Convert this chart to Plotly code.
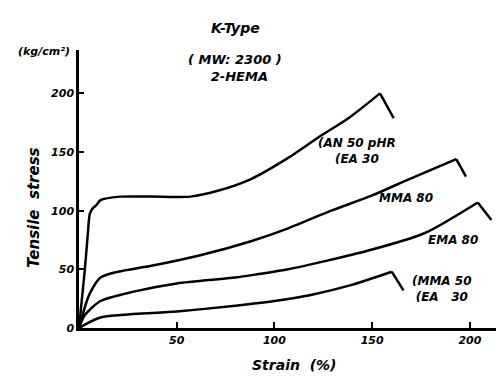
import plotly.graph_objects as go

# Strain (%) / Tensile stress (kg/cm2); last point = break after failure
an_ea_x = [0, 1.5, 3, 4.5, 5.5, 7, 9, 11, 21, 37, 57, 71, 88, 107, 122, 138, 154, 161]
an_ea_y = [0, 25, 50, 80, 97, 102, 105, 109, 112, 112, 112, 117, 127, 145, 162, 179, 200, 179]

mma80_x = [0, 2, 4, 6, 11, 20, 37, 62, 88, 107, 129, 150, 169, 193, 198]
mma80_y = [0, 12, 23, 31, 43, 48, 53, 62, 74, 85, 100, 113, 127, 144, 129]

ema80_x = [0, 3, 11, 28, 50, 80, 92, 107, 148, 177, 204, 211]
ema80_y = [0, 11, 23, 31, 38, 43, 46, 50, 66, 81, 107, 92]

mma_ea_x = [0, 11, 50, 80, 100, 118, 140, 160, 166]
mma_ea_y = [0, 9, 14, 19, 23, 28, 37, 48, 32]

x_ticks = [50, 100, 150, 200]
y_ticks = [0, 50, 100, 150, 200]

FONT = "DejaVu Sans"
fig = go.Figure()
for xs, ys in [(an_ea_x, an_ea_y), (mma80_x, mma80_y), (ema80_x, ema80_y), (mma_ea_x, mma_ea_y)]:
    fig.add_trace(go.Scatter(x=xs[:-1], y=ys[:-1], mode="lines",
                             line=dict(color="black", width=2.5, shape="spline", smoothing=0.7),
                             showlegend=False, hoverinfo="skip"))
    fig.add_trace(go.Scatter(x=xs[-2:], y=ys[-2:], mode="lines",
                             line=dict(color="black", width=2.5),
                             showlegend=False, hoverinfo="skip"))

tickfont = dict(family=FONT, size=11, color="black", style="italic", weight="bold")
fig.update_layout(
    width=504, height=376,
    margin=dict(l=71, r=3, t=42, b=56),
    paper_bgcolor="white", plot_bgcolor="white",
    xaxis=dict(range=[0, 220], tickvals=x_ticks, ticks="inside", ticklen=6,
               tickwidth=1.5, tickcolor="black", showgrid=False, zeroline=False,
               showline=True, linecolor="black", linewidth=2.5,
               tickfont=tickfont),
    yaxis=dict(range=[0, 237], tickvals=y_ticks, ticks="inside", ticklen=5,
               tickwidth=1.5, tickcolor="black", showgrid=False, zeroline=False,
               showline=True, linecolor="black", linewidth=2.5,
               tickfont=tickfont),
)

L, R, T, B = 71, 501, 42, 320
def px(x, y, s, size=12, anchor="left"):
    fig.add_annotation(xref="paper", yref="paper", x=(x - L) / (R - L), y=(B - y) / (B - T),
                       text=s, showarrow=False, xanchor=anchor, yanchor="middle",
                       font=dict(family=FONT, size=size, color="black",
                                 style="italic", weight="bold"))

px(227, 20, "K-Type", 14, "center")
px(227, 60, "( MW: 2300 )<br>  2-HEMA", 13, "center")
px(36, 44, "(kg/cm²)", 11, "center")
px(286, 357, "Strain  (%)", 14, "center")
fig.add_annotation(xref="paper", yref="paper", x=(26 - L) / (R - L), y=(B - 200) / (B - T),
                   text="Tensile  stress", showarrow=False, textangle=-90,
                   xanchor="center", yanchor="middle",
                   font=dict(family=FONT, size=15, color="black", style="italic", weight="bold"))
px(308, 143, "(AN 50 pHR<br>(EA 30", 12, "left")
px(369, 190, "MMA 80", 12, "left")
px(418, 232, "EMA 80", 12, "left")
px(402, 281, "(MMA 50<br>(EA   30", 12, "left")

fig.write_html("out.html")
